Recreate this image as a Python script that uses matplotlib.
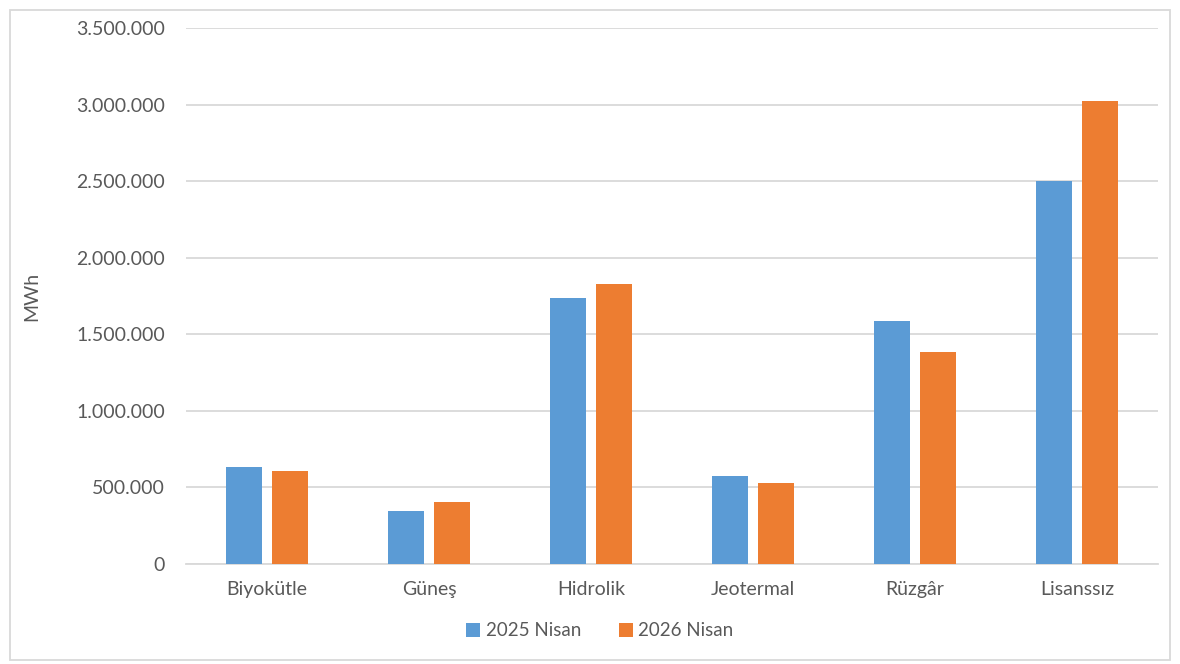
import matplotlib
matplotlib.use("Agg")
import matplotlib.pyplot as plt
from matplotlib.ticker import FuncFormatter, MultipleLocator
from matplotlib.patches import Rectangle
import numpy as np

categories = ["Biyokütle", "Güneş", "Hidrolik", "Jeotermal", "Rüzgâr", "Lisanssız"]
series_names = ["2025 Nisan", "2026 Nisan"]
values_2025 = [632000, 344000, 1734000, 577000, 1584000, 2503000]
values_2026 = [610000, 403000, 1828000, 529000, 1386000, 3024000]

plt.rcParams['font.family'] = ['Lato', 'DejaVu Sans']
text_color = "#595959"

fig = plt.figure(figsize=(11.8, 6.64), dpi=100)
ax = fig.add_axes([186/1180, 1-564/664, (1158-186)/1180, (564-28)/664])

x = np.arange(len(categories))
w = 0.222
off = 0.142
ax.bar(x - off, values_2025, width=w, color="#5B9BD5", label=series_names[0], zorder=3)
ax.bar(x + off, values_2026, width=w, color="#ED7D31", label=series_names[1], zorder=3)

ax.set_xlim(-0.5, len(categories) - 0.5)
ax.set_ylim(0, 3500000)
ax.yaxis.set_major_locator(MultipleLocator(500000))
ax.yaxis.set_major_formatter(FuncFormatter(lambda v, p: f"{int(v):,}".replace(",", ".")))
ax.grid(axis="y", color="#D9D9D9", linewidth=1.3, zorder=0)
for s in ["top", "right", "left"]:
    ax.spines[s].set_visible(False)
ax.spines["bottom"].set_color("#D9D9D9")
ax.spines["bottom"].set_linewidth(1.3)
ax.set_xticks(x)
ax.set_xticklabels(categories)
ax.tick_params(axis="both", length=0, labelsize=14, labelcolor=text_color)
ax.tick_params(axis="y", pad=15)
ax.tick_params(axis="x", pad=12)
ax.set_ylabel("MWh", fontsize=14, color=text_color, labelpad=12)
ax.yaxis.set_label_coords(-146/972, 0.5)

leg = fig.legend(loc="center", bbox_to_anchor=(600/1180, 1-631/664), ncol=2, frameon=False,
                 fontsize=13.5, handlelength=0.75, handleheight=0.75, columnspacing=2.0,
                 handletextpad=0.3)
for t in leg.get_texts():
    t.set_color(text_color)

fig.patches.append(Rectangle((10/1180, 1-660/664), 1160/1180, 650/664, transform=fig.transFigure,
                             fill=False, edgecolor="#D9D9D9", linewidth=1.3))

fig.savefig("out.png", dpi=100, facecolor="white")
